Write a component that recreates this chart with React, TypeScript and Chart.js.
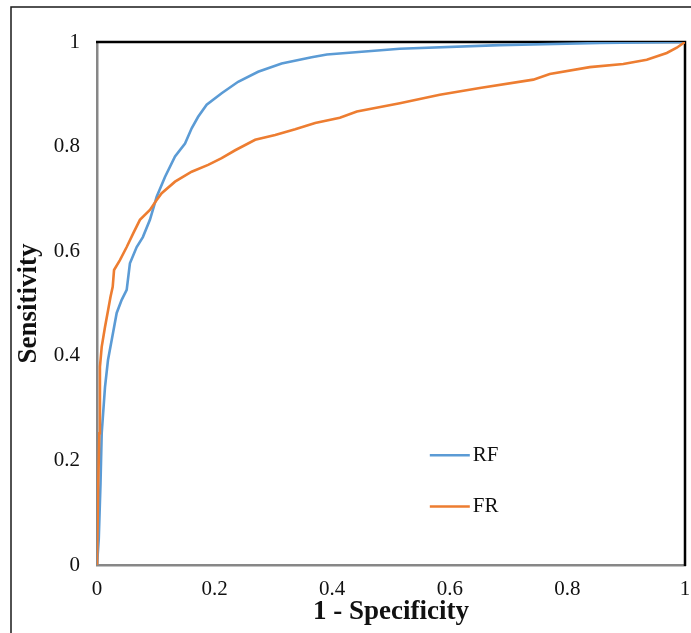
import React, { useEffect, useRef } from "react";
import { Chart, registerables } from "chart.js";

Chart.register(...registerables);

// ---- Data ----
const SERIES_NAMES = ["RF", "FR"];
const SERIES_COLORS = ["#5B9BD5", "#ED7D31"];

const RF_FPR = [0, 0.003, 0.006, 0.008, 0.0136, 0.0187, 0.025, 0.0335, 0.042, 0.0505, 0.056, 0.0675, 0.078, 0.09, 0.095, 0.1015, 0.1156, 0.1327, 0.1497, 0.161, 0.172, 0.1865, 0.212, 0.24, 0.274, 0.314, 0.365, 0.391, 0.515, 0.685, 0.855, 1];
const RF_TPR = [0, 0.05, 0.157, 0.252, 0.34, 0.392, 0.43, 0.482, 0.507, 0.526, 0.577, 0.608, 0.627, 0.66, 0.679, 0.704, 0.742, 0.781, 0.806, 0.835, 0.857, 0.88, 0.902, 0.924, 0.943, 0.959, 0.971, 0.976, 0.987, 0.994, 0.998, 1];

const FR_FPR = [0, 0.002, 0.004, 0.005, 0.008, 0.0136, 0.019, 0.023, 0.0267, 0.029, 0.039, 0.0505, 0.062, 0.073, 0.09, 0.1015, 0.11, 0.1327, 0.161, 0.189, 0.212, 0.235, 0.269, 0.303, 0.337, 0.371, 0.413, 0.442, 0.515, 0.583, 0.651, 0.742, 0.77, 0.838, 0.895, 0.935, 0.969, 0.986, 1];
const FR_TPR = [0, 0.15, 0.252, 0.379, 0.417, 0.455, 0.488, 0.513, 0.532, 0.564, 0.583, 0.608, 0.635, 0.66, 0.679, 0.698, 0.711, 0.733, 0.752, 0.765, 0.778, 0.793, 0.813, 0.822, 0.833, 0.845, 0.855, 0.867, 0.883, 0.899, 0.912, 0.928, 0.939, 0.952, 0.958, 0.966, 0.979, 0.989, 1];

const X_TITLE = "1 - Specificity";
const Y_TITLE = "Sensitivity";
const AXIS_MIN = 0;
const AXIS_MAX = 1;
const TICK_STEP = 0.2;

const FONT = "'Liberation Serif', 'Times New Roman', Times, serif";

const zip = (xs: number[], ys: number[]) => xs.map((x, i) => ({ x, y: ys[i] }));
const fmtTick = (v: any) => String(Number(Number(v).toFixed(1)));

// Frame (top/right black lines) and outer image frame
const framePlugin = {
  id: "framePlugin",
  beforeDraw(chart: any) {
    const ctx = chart.ctx;
    ctx.save();
    ctx.strokeStyle = "#1a1a1a";
    ctx.lineWidth = 1.5;
    ctx.beginPath();
    ctx.moveTo(11, chart.height);
    ctx.lineTo(11, 7);
    ctx.lineTo(chart.width, 7);
    ctx.stroke();
    ctx.restore();
  },
  beforeDatasetsDraw(chart: any) {
    const { ctx, chartArea: a } = chart;
    ctx.save();
    ctx.strokeStyle = "#000000";
    ctx.lineWidth = 2.5;
    ctx.beginPath();
    ctx.moveTo(a.left - 1, a.top);
    ctx.lineTo(a.right, a.top);
    ctx.lineTo(a.right, a.bottom + 1);
    ctx.stroke();
    ctx.restore();
  },
};

// Legend drawn inside the plot area
const insideLegend = {
  id: "insideLegend",
  afterDraw(chart: any) {
    const { ctx, chartArea: a } = chart;
    const w = a.right - a.left;
    const h = a.bottom - a.top;
    const x0 = a.left + w * 0.566;
    const x1 = x0 + 40;
    const rows = [0.79, 0.888];
    ctx.save();
    chart.data.datasets.forEach((ds: any, i: number) => {
      const y = a.top + h * rows[i];
      ctx.strokeStyle = ds.borderColor;
      ctx.lineWidth = 2.5;
      ctx.beginPath();
      ctx.moveTo(x0, y);
      ctx.lineTo(x1, y);
      ctx.stroke();
      ctx.fillStyle = "#111";
      ctx.font = `21px ${FONT}`;
      ctx.textBaseline = "middle";
      ctx.textAlign = "left";
      ctx.fillText(ds.label, x1 + 3, y);
    });
    ctx.restore();
  },
};

export default function App() {
  const ref = useRef<HTMLCanvasElement | null>(null);

  useEffect(() => {
    if (!ref.current) return;
    const chart = new Chart(ref.current, {
      type: "line",
      data: {
        datasets: [
          {
            label: SERIES_NAMES[0],
            data: zip(RF_FPR, RF_TPR),
            borderColor: SERIES_COLORS[0],
            backgroundColor: SERIES_COLORS[0],
            borderWidth: 2.6,
            pointRadius: 0,
            tension: 0,
            order: 1,
          },
          {
            label: SERIES_NAMES[1],
            data: zip(FR_FPR, FR_TPR),
            borderColor: SERIES_COLORS[1],
            backgroundColor: SERIES_COLORS[1],
            borderWidth: 2.6,
            pointRadius: 0,
            tension: 0,
            order: 0,
          },
        ],
      },
      options: {
        animation: false,
        responsive: false,
        devicePixelRatio: 1,
        layout: { padding: { left: 0, top: 42, right: 6, bottom: 0 } },
        plugins: {
          legend: { display: false },
          tooltip: { enabled: false },
        },
        scales: {
          x: {
            type: "linear",
            min: AXIS_MIN,
            max: AXIS_MAX,
            grid: {
              display: true,
              drawOnChartArea: false,
              drawTicks: true,
              tickLength: 12,
              color: "rgba(0,0,0,0)",
            },
            border: { display: true, color: "#878787", width: 2.5 },
            ticks: {
              stepSize: TICK_STEP,
              color: "#111",
              font: { family: FONT, size: 21 },
              padding: 0,
              maxRotation: 0,
              callback: fmtTick,
            },
            title: {
              display: true,
              text: X_TITLE,
              color: "#111",
              font: { family: FONT, size: 27, weight: "bold" },
              padding: { top: 0, bottom: 5 },
            },
            afterFit: (s: any) => {
              s.height = 68;
            },
          },
          y: {
            type: "linear",
            min: AXIS_MIN,
            max: AXIS_MAX,
            grid: { display: false, drawTicks: false },
            border: { display: true, color: "#878787", width: 2.5 },
            ticks: {
              stepSize: TICK_STEP,
              color: "#111",
              font: { family: FONT, size: 21 },
              padding: 17,
              callback: fmtTick,
            },
            title: {
              display: true,
              text: Y_TITLE,
              color: "#111",
              font: { family: FONT, size: 27, weight: "bold" },
              padding: { top: 13, bottom: 0 },
            },
            afterFit: (s: any) => {
              s.width = 97;
            },
          },
        },
      },
      plugins: [framePlugin, insideLegend],
    } as any);
    return () => chart.destroy();
  }, []);

  return (
    <div style={{ position: "absolute", left: 0, top: 0, width: 691, height: 633, background: "#fff" }}>
      <canvas ref={ref} width={691} height={633} style={{ display: "block" }} />
    </div>
  );
}
